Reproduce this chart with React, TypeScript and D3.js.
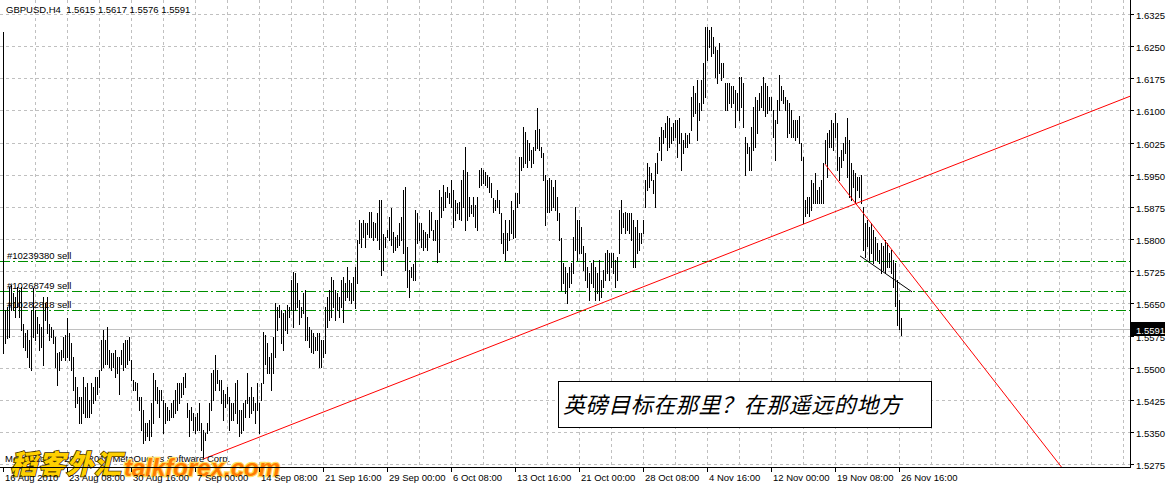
import React from "react";
import * as d3 from "d3";

const symbolTitle = "GBPUSD,H4";
const lastBarOHLC = [1.5615, 1.5617, 1.5576, 1.5591];
const currentPrice = 1.5591;

// H4 bars, high / low per bar
const highs: number[] = [
  1.6283,1.5635,1.5642,1.5689,1.5693,1.5674,1.5666,1.5689,1.5681,1.5689,
  1.5603,1.5580,1.5588,1.5565,1.5635,1.5685,1.5635,1.5619,1.5603,1.5596,
  1.5666,1.5650,1.5666,1.5603,1.5596,1.5588,1.5573,1.5534,1.5538,1.5541,
  1.5573,1.5576,1.5615,1.5580,1.5557,1.5526,1.5479,1.5456,1.5433,1.5433,
  1.5479,1.5456,1.5464,1.5425,1.5464,1.5456,1.5479,1.5479,1.5495,1.5565,
  1.5588,1.5565,1.5596,1.5541,1.5534,1.5534,1.5541,1.5526,1.5526,1.5541,
  1.5557,1.5565,1.5565,1.5573,1.5518,1.5472,1.5468,1.5464,1.5433,1.5433,
  1.5402,1.5371,1.5371,1.5378,1.5417,1.5487,1.5472,1.5456,1.5448,1.5448,
  1.5425,1.5417,1.5409,1.5402,1.5417,1.5425,1.5448,1.5464,1.5464,1.5464,
  1.5479,1.5487,1.5417,1.5402,1.5409,1.5394,1.5386,1.5394,1.5417,1.5371,
  1.5355,1.5347,1.5371,1.5417,1.5487,1.5495,1.5530,1.5495,1.5472,1.5472,
  1.5448,1.5440,1.5456,1.5433,1.5417,1.5417,1.5464,1.5472,1.5402,1.5402,
  1.5417,1.5425,1.5487,1.5433,1.5456,1.5433,1.5417,1.5464,1.5417,1.5464,
  1.5584,1.5576,1.5557,1.5526,1.5534,1.5573,1.5650,1.5642,1.5646,1.5635,
  1.5627,1.5635,1.5646,1.5642,1.5705,1.5724,1.5720,1.5697,1.5658,1.5642,
  1.5674,1.5681,1.5619,1.5596,1.5588,1.5580,1.5573,1.5580,1.5580,1.5565,
  1.5565,1.5642,1.5666,1.5681,1.5712,1.5705,1.5681,1.5674,1.5666,1.5705,
  1.5712,1.5697,1.5736,1.5705,1.5697,1.5712,1.5736,1.5798,1.5845,1.5837,
  1.5845,1.5837,1.5837,1.5864,1.5864,1.5841,1.5837,1.5860,1.5891,1.5891,
  1.5813,1.5806,1.5821,1.5852,1.5872,1.5817,1.5806,1.5810,1.5837,1.5852,
  1.5914,1.5922,1.5782,1.5728,1.5736,1.5743,1.5868,1.5860,1.5837,1.5837,
  1.5821,1.5817,1.5813,1.5868,1.5864,1.5821,1.5845,1.5845,1.5914,1.5899,
  1.5926,1.5911,1.5922,1.5907,1.5938,1.5914,1.5891,1.5884,1.5887,1.5938,
  1.5961,1.6016,1.5957,1.5899,1.5880,1.5899,1.5880,1.5899,1.5961,1.5965,
  1.5961,1.5957,1.5950,1.5946,1.5930,1.5895,1.5891,1.5915,1.5891,1.5860,
  1.5814,1.5845,1.5814,1.5845,1.5888,1.5868,1.5907,1.5907,1.5992,1.5992,
  1.6062,1.6051,1.6031,1.6024,1.6008,1.6016,1.6055,1.6105,1.6058,1.6016,
  1.6000,1.5950,1.5938,1.5942,1.5938,1.5922,1.5938,1.5899,1.5860,1.5802,
  1.5744,1.5736,1.5720,1.5736,1.5744,1.5806,1.5876,1.5845,1.5845,1.5829,
  1.5783,1.5767,1.5736,1.5720,1.5744,1.5752,1.5736,1.5720,1.5752,1.5705,
  1.5728,1.5767,1.5775,1.5767,1.5767,1.5767,1.5752,1.5759,1.5868,1.5891,
  1.5860,1.5864,1.5860,1.5860,1.5860,1.5845,1.5829,1.5845,1.5814,1.5814,
  1.5845,1.5938,1.5977,1.5969,1.5954,1.5938,1.5977,1.6000,1.6039,1.6062,
  1.6055,1.6070,1.6086,1.6082,1.6062,1.6070,1.6078,1.6078,1.6082,1.6047,
  1.6031,1.6047,1.6043,1.6047,1.6132,1.6156,1.6140,1.6171,1.6117,1.6171,
  1.6210,1.6295,1.6295,1.6288,1.6295,1.6272,1.6249,1.6241,1.6257,1.6210,
  1.6210,1.6163,1.6163,1.6163,1.6156,1.6156,1.6148,1.6140,1.6179,1.6179,
  1.6163,1.6039,1.6024,1.6016,1.6062,1.6109,1.6132,1.6125,1.6140,1.6156,
  1.6179,1.6163,1.6156,1.6132,1.6132,1.6101,1.6078,1.6125,1.6183,1.6156,
  1.6148,1.6132,1.6125,1.6117,1.6101,1.6078,1.6078,1.6078,1.6086,1.6024,
  1.5992,1.5891,1.5899,1.5899,1.5938,1.5930,1.5954,1.5915,1.5922,1.5938,
  1.5977,1.6031,1.6047,1.6055,1.6078,1.6070,1.6093,1.6070,1.5992,1.6008,
  1.6024,1.6039,1.6082,1.6031,1.5977,1.5961,1.5954,1.5946,1.5946,1.5950,
  1.5876,1.5837,1.5845,1.5829,1.5837,1.5822,1.5806,1.5790,1.5775,1.5790,
  1.5783,1.5798,1.5790,1.5767,1.5775,1.5752,1.5744,1.5705,1.5658,1.5617,
];

const lows: number[] = [
  1.5534,1.5557,1.5569,1.5573,1.5635,1.5635,1.5619,1.5642,1.5619,1.5588,
  1.5549,1.5541,1.5526,1.5503,1.5495,1.5573,1.5565,1.5580,1.5541,1.5549,
  1.5506,1.5611,1.5580,1.5565,1.5573,1.5557,1.5503,1.5460,1.5495,1.5518,
  1.5526,1.5518,1.5526,1.5518,1.5495,1.5448,1.5409,1.5417,1.5371,1.5371,
  1.5394,1.5386,1.5386,1.5386,1.5394,1.5417,1.5425,1.5440,1.5456,1.5495,
  1.5503,1.5510,1.5510,1.5503,1.5495,1.5503,1.5479,1.5487,1.5440,1.5510,
  1.5495,1.5503,1.5510,1.5518,1.5472,1.5448,1.5448,1.5425,1.5402,1.5355,
  1.5324,1.5332,1.5340,1.5332,1.5340,1.5371,1.5425,1.5417,1.5386,1.5425,
  1.5347,1.5371,1.5378,1.5378,1.5386,1.5386,1.5394,1.5402,1.5417,1.5433,
  1.5440,1.5456,1.5386,1.5340,1.5378,1.5355,1.5347,1.5355,1.5355,1.5308,
  1.5293,1.5332,1.5347,1.5355,1.5402,1.5425,1.5448,1.5464,1.5448,1.5417,
  1.5378,1.5409,1.5417,1.5355,1.5378,1.5378,1.5394,1.5371,1.5340,1.5347,
  1.5355,1.5386,1.5417,1.5386,1.5394,1.5402,1.5371,1.5402,1.5347,1.5425,
  1.5464,1.5510,1.5487,1.5487,1.5448,1.5487,1.5526,1.5588,1.5619,1.5557,
  1.5541,1.5588,1.5580,1.5619,1.5635,1.5596,1.5635,1.5642,1.5603,1.5619,
  1.5627,1.5565,1.5565,1.5549,1.5538,1.5534,1.5541,1.5541,1.5503,1.5503,
  1.5526,1.5534,1.5596,1.5611,1.5619,1.5642,1.5611,1.5635,1.5619,1.5642,
  1.5607,1.5658,1.5666,1.5658,1.5650,1.5658,1.5639,1.5697,1.5790,1.5782,
  1.5806,1.5782,1.5813,1.5806,1.5806,1.5798,1.5806,1.5798,1.5778,1.5716,
  1.5728,1.5782,1.5806,1.5798,1.5786,1.5771,1.5775,1.5782,1.5786,1.5798,
  1.5767,1.5728,1.5689,1.5666,1.5712,1.5705,1.5705,1.5790,1.5798,1.5782,
  1.5775,1.5782,1.5775,1.5806,1.5821,1.5798,1.5798,1.5747,1.5771,1.5852,
  1.5868,1.5876,1.5899,1.5884,1.5876,1.5829,1.5845,1.5860,1.5848,1.5845,
  1.5876,1.5822,1.5845,1.5853,1.5860,1.5853,1.5829,1.5822,1.5922,1.5926,
  1.5930,1.5926,1.5922,1.5911,1.5899,1.5864,1.5868,1.5876,1.5860,1.5790,
  1.5767,1.5752,1.5775,1.5798,1.5814,1.5802,1.5806,1.5876,1.5884,1.5961,
  1.5969,1.5977,1.5969,1.5985,1.5969,1.5977,1.6008,1.6012,1.6008,1.5992,
  1.5938,1.5833,1.5864,1.5864,1.5868,1.5876,1.5868,1.5845,1.5798,1.5682,
  1.5697,1.5674,1.5651,1.5689,1.5697,1.5720,1.5775,1.5752,1.5767,1.5767,
  1.5728,1.5705,1.5689,1.5658,1.5697,1.5689,1.5658,1.5674,1.5658,1.5666,
  1.5689,1.5705,1.5720,1.5705,1.5736,1.5720,1.5689,1.5705,1.5767,1.5814,
  1.5829,1.5814,1.5822,1.5814,1.5798,1.5736,1.5736,1.5767,1.5775,1.5790,
  1.5814,1.5876,1.5915,1.5922,1.5938,1.5907,1.5876,1.5954,1.6008,1.5985,
  1.6024,1.6039,1.6008,1.6016,1.6024,1.6031,1.6039,1.5992,1.6024,1.5961,
  1.6000,1.6016,1.6016,1.6024,1.6055,1.6086,1.6093,1.6031,1.6078,1.6101,
  1.6117,1.6132,1.6218,1.6249,1.6226,1.6233,1.6179,1.6163,1.6187,1.6171,
  1.6179,1.6101,1.6101,1.6117,1.6109,1.6117,1.6062,1.6101,1.6078,1.6109,
  1.6062,1.5950,1.6000,1.5961,1.5961,1.6008,1.6016,1.6047,1.6101,1.6109,
  1.6101,1.6086,1.6093,1.6101,1.6101,1.6039,1.5985,1.6070,1.6101,1.6125,
  1.6117,1.6101,1.6039,1.6047,1.6039,1.6039,1.6031,1.6039,1.6024,1.5985,
  1.5837,1.5853,1.5860,1.5853,1.5868,1.5884,1.5884,1.5884,1.5884,1.5884,
  1.5884,1.5977,1.5946,1.6016,1.6016,1.6008,1.6039,1.5961,1.5938,1.5969,
  1.5985,1.6000,1.5946,1.5899,1.5891,1.5922,1.5884,1.5915,1.5899,1.5884,
  1.5775,1.5759,1.5783,1.5752,1.5767,1.5744,1.5752,1.5752,1.5744,1.5720,
  1.5728,1.5720,1.5736,1.5736,1.5720,1.5689,1.5643,1.5600,1.5590,1.5576,
];

const timeLabels = [
  "16 Aug 2010", "23 Aug 08:00", "30 Aug 16:00", "7 Sep 00:00", "14 Sep 08:00",
  "21 Sep 16:00", "29 Sep 00:00", "6 Oct 08:00", "13 Oct 16:00", "21 Oct 00:00",
  "28 Oct 08:00", "4 Nov 16:00", "12 Nov 00:00", "19 Nov 08:00", "26 Nov 16:00",
];
const barsPerTimeLabel = 32;

const priceTicks = [
  1.5275, 1.5350, 1.5425, 1.5500, 1.5575, 1.5650, 1.5725, 1.5800,
  1.5875, 1.5950, 1.6025, 1.6100, 1.6175, 1.6250, 1.6325,
];

const orderLabels = ["#10239380 sell", "#10268749 sell", "#10282818 sell"];
const orderPrices = [1.5750, 1.5680, 1.5634];

// trend lines: [barIndex, price] anchors
const trendUp = [[100, 1.5287], [450, 1.5926]];
const trendDown = [[411, 1.5975], [450, 1.5742]];
const channelLine = [[428.5, 1.5761], [454.5, 1.5677]];

const noteText = "英磅目标在那里？在那遥远的地方";
const copyrightText = "MetaTrader ? 2001-2010 MetaQuotes Software Corp.";
const watermarkCn = "稻客外汇";
const watermarkEn = "talkforex.com";

const W = 1167;
const H = 485;
const plotRight = 1130;
const plotBottom = 467;
const FONT = "'Liberation Sans', Arial, sans-serif";
const FS = 9.5;

export default function App() {
  const x = d3.scaleLinear().domain([0, 1]).range([3, 5]);
  const y = d3.scaleLinear().domain([1.5275, 1.6325]).range([464.3, 14]);

  const rayPts = (a: number[][], extendTo: number) => {
    const [p0, p1] = a;
    const slope = (p1[1] - p0[1]) / (p1[0] - p0[0]);
    return [x(p0[0]), y(p0[1]), x(extendTo), y(p0[1] + slope * (extendTo - p0[0]))];
  };
  const farIndex = x.invert(plotRight + 400);
  const up = rayPts(trendUp, farIndex);
  const down = rayPts(trendDown, farIndex);
  const ch = [x(channelLine[0][0]), y(channelLine[0][1]), x(channelLine[1][0]), y(channelLine[1][1])];

  const vGrid: number[] = [];
  for (let i = 16; x(i) < plotRight; i += 16) vGrid.push(x(i));

  const header = `${symbolTitle}  ${lastBarOHLC.map((v) => v.toFixed(4)).join(" ")}`;
  const cpY = Math.round(y(currentPrice)) + 0.5;

  return (
    <svg
      width={W}
      height={H}
      style={{ position: "absolute", left: 0, top: 0, background: "#fff" }}
      fontFamily={FONT}
      fontSize={FS}
    >
      <defs>
        <clipPath id="plot">
          <rect x={0} y={0} width={plotRight} height={plotBottom} />
        </clipPath>
      </defs>
      <rect x={0} y={0} width={W} height={H} fill="#fff" />

      {/* grid */}
      <g stroke="#c0c0c0" strokeWidth={1} strokeDasharray="3,3" shapeRendering="crispEdges">
        {vGrid.map((gx, i) => (
          <line key={"v" + i} x1={gx + 0.5} x2={gx + 0.5} y1={0} y2={plotBottom} />
        ))}
        {priceTicks.map((p, i) => (
          <line key={"h" + i} x1={0} x2={plotRight} y1={Math.round(y(p)) + 0.5} y2={Math.round(y(p)) + 0.5} />
        ))}
      </g>

      {/* current price line */}
      <line x1={0} x2={plotRight} y1={cpY} y2={cpY} stroke="#c0c0c0" shapeRendering="crispEdges" />

      {/* order lines */}
      {orderPrices.map((p, i) => {
        const yy = Math.round(y(p)) + 0.5;
        return (
          <line
            key={"ol" + i}
            x1={0}
            x2={plotRight}
            y1={yy}
            y2={yy}
            stroke="#009000"
            strokeWidth={1}
            strokeDasharray="10,3,2,3"
            shapeRendering="crispEdges"
          />
        );
      })}
      {orderPrices.map((p, i) => (
        <text key={"ot" + i} x={7} y={Math.round(y(p)) - 2} fill="#000">
          {orderLabels[i]}
        </text>
      ))}

      {/* bars */}
      <g fill="#000" shapeRendering="crispEdges">
        {highs.map((h, i) => {
          const y1 = Math.round(y(h));
          const y2 = Math.round(y(lows[i]));
          return <rect key={i} x={x(i)} y={y1} width={1} height={Math.max(1, y2 - y1 + 1)} />;
        })}
      </g>

      {/* trend lines */}
      <g clipPath="url(#plot)">
        <line x1={up[0]} y1={up[1]} x2={up[2]} y2={up[3]} stroke="#ff0000" strokeWidth={1} />
        <line x1={down[0]} y1={down[1]} x2={down[2]} y2={down[3]} stroke="#ff0000" strokeWidth={1} />
        <line x1={ch[0]} y1={ch[1]} x2={ch[2]} y2={ch[3]} stroke="#000" strokeWidth={1} />
      </g>

      {/* note box */}
      <rect x={558.5} y={381.5} width={373} height={46} fill="#fff" stroke="#000" shapeRendering="crispEdges" />
      <text
        x={563}
        y={413}
        fontFamily="'Noto Sans CJK SC', sans-serif"
        fontSize={22}
        fontStyle="italic"
        fontWeight={400}
        textLength={338}
        lengthAdjust="spacing"
        fill="#000"
      >
        {noteText}
      </text>

      {/* header */}
      <text x={6} y={13} fill="#000" xmlSpace="preserve" style={{ whiteSpace: "pre" }}>
        {header}
      </text>

      {/* copyright + watermark */}
      <text x={5} y={462} fill="#000">{copyrightText}</text>
      <text
        x={10}
        y={474}
        fontFamily="'Noto Sans CJK SC', sans-serif"
        fontSize={27}
        fontWeight={900}
        fontStyle="italic"
        fill="#ffd000"
        stroke="#3a2a00"
        strokeWidth={1.5}
        paintOrder="stroke"
        letterSpacing={1}
      >
        {watermarkCn}
      </text>
      <text
        x={124}
        y={476}
        fontFamily="'Liberation Sans', Arial, sans-serif"
        fontSize={24}
        fontWeight={700}
        fontStyle="italic"
        fill="#ff7a00"
        stroke="#ffe060"
        strokeWidth={2.5}
        paintOrder="stroke"
      >
        {watermarkEn}
      </text>

      {/* axes frame */}
      <g stroke="#000" shapeRendering="crispEdges">
        <line x1={plotRight + 0.5} x2={plotRight + 0.5} y1={0} y2={plotBottom + 1} />
        <line x1={0} x2={plotRight + 1} y1={plotBottom + 0.5} y2={plotBottom + 0.5} />
      </g>

      {/* price axis */}
      <g>
        {priceTicks.map((p, i) => {
          const yy = Math.round(y(p)) + 0.5;
          return (
            <g key={"pt" + i}>
              <line x1={plotRight} x2={plotRight + 4} y1={yy} y2={yy} stroke="#000" shapeRendering="crispEdges" />
              <text x={1136} y={yy + 4} fill="#000">{p.toFixed(4)}</text>
            </g>
          );
        })}
        <rect x={1131} y={cpY - 7.5} width={34} height={14} fill="#000" />
        <text x={1136} y={cpY + 4} fill="#fff">{currentPrice.toFixed(4)}</text>
      </g>

      {/* time axis */}
      <g>
        {timeLabels.map((t, i) => {
          const tx = x(i * barsPerTimeLabel) + 0.5;
          return (
            <g key={"tl" + i}>
              <line x1={tx} x2={tx} y1={plotBottom} y2={plotBottom + 5} stroke="#000" shapeRendering="crispEdges" />
              <text x={tx + 1.5} y={481} fill="#000">{t}</text>
            </g>
          );
        })}
      </g>
    </svg>
  );
}
